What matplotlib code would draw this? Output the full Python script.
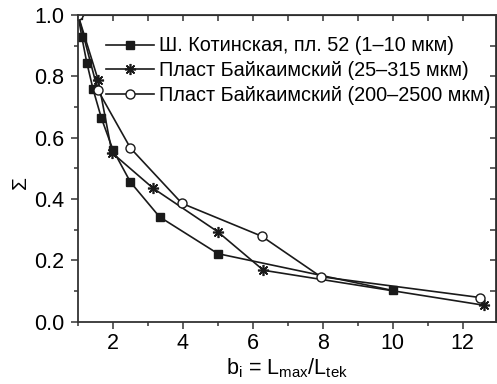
import matplotlib
matplotlib.use("Agg")
import matplotlib.pyplot as plt
from matplotlib.ticker import MultipleLocator

plt.rcParams['font.family'] = ['Liberation Sans', 'DejaVu Sans']
plt.rcParams['mathtext.fontset'] = 'custom'
plt.rcParams['mathtext.rm'] = 'Liberation Sans'
plt.rcParams['mathtext.it'] = 'Liberation Sans'

# Котинская, пл. 52 (1-10 мкм)
b_kot = [1.0, 1.11, 1.25, 1.43, 1.67, 2.0, 2.5, 3.33, 5.0, 10.0]
s_kot = [1.0, 0.927, 0.845, 0.758, 0.663, 0.56, 0.455, 0.342, 0.222, 0.102]

# Байкаимский (25-315 мкм)
b_bk1 = [1.0, 1.575, 1.97, 3.15, 5.0, 6.3, 12.6]
s_bk1 = [1.0, 0.788, 0.551, 0.435, 0.293, 0.168, 0.054]

# Байкаимский (200-2500 мкм)
b_bk2 = [1.0, 1.5625, 2.5, 3.97, 6.25, 7.94, 12.5]
s_bk2 = [1.0, 0.756, 0.566, 0.386, 0.279, 0.147, 0.079]

labels = ["Ш. Котинская, пл. 52 (1–10 мкм)",
          "Пласт Байкаимский (25–315 мкм)",
          "Пласт Байкаимский (200–2500 мкм)"]

col = '#1a1a1a'

fig = plt.figure(figsize=(4.97, 3.84), dpi=100)
ax = fig.add_axes([0.157, 0.162, 0.841, 0.799])

ax.plot(b_kot, s_kot, color=col, lw=1.2, marker='s', ms=5.5,
        mfc=col, mec=col, label=labels[0])
ax.plot(b_bk1, s_bk1, color=col, lw=1.2, marker=(8, 2, 0), ms=8,
        mec=col, mew=1.2, label=labels[1])
ax.plot(b_bk2, s_bk2, color=col, lw=1.2, marker='o', ms=6.5,
        mfc='white', mec=col, mew=1.0, label=labels[2])

ax.set_xlim(1, 12.95)
ax.set_ylim(0, 1.0)
ax.xaxis.set_major_locator(MultipleLocator(2))
ax.xaxis.set_minor_locator(MultipleLocator(1))
ax.yaxis.set_major_locator(MultipleLocator(0.2))
ax.yaxis.set_minor_locator(MultipleLocator(0.1))
ax.yaxis.set_major_formatter(matplotlib.ticker.FormatStrFormatter('%.1f'))

for sp in ax.spines.values():
    sp.set_linewidth(1.3)
    sp.set_color('#333333')

ax.tick_params(which='both', direction='out', top=False, right=False,
               labelsize=15.5, width=1.1, color='#333333')
ax.tick_params(which='major', length=5)
ax.tick_params(axis='y', which='major', pad=5)
ax.tick_params(axis='x', which='major', pad=3)
ax.tick_params(which='minor', length=3)

# inward ticks on the top and right sides
ax_t = ax.secondary_xaxis('top')
ax_t.xaxis.set_major_locator(MultipleLocator(1))
ax_t.tick_params(direction='in', length=4, width=1.1, labeltop=False, color='#333333')
ax_r = ax.secondary_yaxis('right')
ax_r.yaxis.set_major_locator(MultipleLocator(0.1))
ax_r.tick_params(direction='in', length=4, width=1.1, labelright=False, color='#333333')

ax.set_xlabel(r'b$_\mathrm{i}$ = L$_\mathrm{max}$/L$_\mathrm{tek}$', fontsize=15.5, labelpad=2)
ax.set_ylabel('Σ', fontsize=15)
ax.yaxis.set_label_coords(-0.115, 0.455)

ax.legend(loc='upper left', bbox_to_anchor=(0.068, 0.93), frameon=False,
          fontsize=14.3, handlelength=2.4, handletextpad=0.25,
          labelspacing=0.28, borderaxespad=0, borderpad=0)

fig.savefig('out.png', dpi=100)
